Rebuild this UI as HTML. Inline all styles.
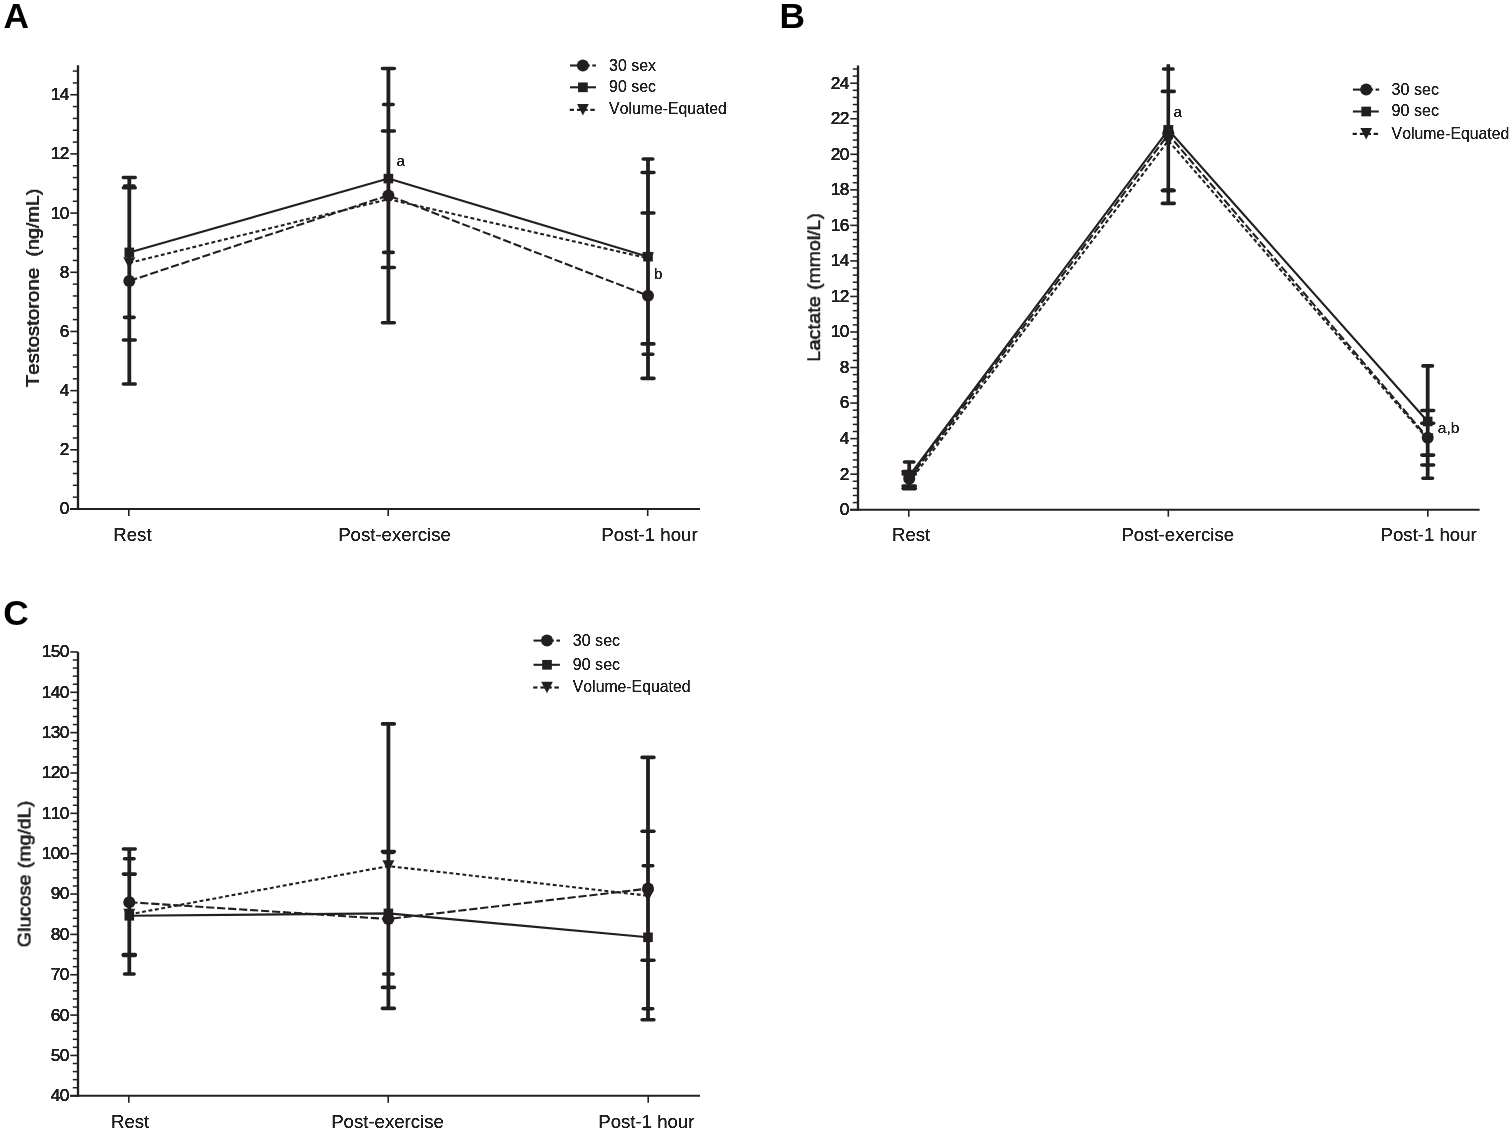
<!DOCTYPE html>
<html lang="en">
<head>
<meta charset="utf-8">
<title>Figure: Testosterone, Lactate, Glucose responses</title>
<style>
html,body{margin:0;padding:0;background:#fff;}
body{width:1512px;height:1131px;overflow:hidden;}
svg{display:block;}
svg text{font-family:"Liberation Sans", Arial, Helvetica, sans-serif;font-kerning:none;}
</style>
</head>
<body>
<svg width="1512" height="1131" viewBox="0 0 1512 1131">
<rect x="0" y="0" width="1512" height="1131" fill="#ffffff"/>
<defs>
<filter id="fb60" x="-15%" y="-15%" width="130%" height="130%" color-interpolation-filters="sRGB"><feOffset in="SourceGraphic" dx="0.3" dy="0" result="a"/><feOffset in="SourceGraphic" dx="-0.3" dy="0" result="b"/><feOffset in="SourceGraphic" dx="0" dy="0.3" result="c"/><feOffset in="SourceGraphic" dx="0" dy="-0.3" result="d"/><feMerge><feMergeNode in="a"/><feMergeNode in="b"/><feMergeNode in="c"/><feMergeNode in="d"/><feMergeNode in="SourceGraphic"/></feMerge></filter>
<filter id="fb90" x="-15%" y="-15%" width="130%" height="130%" color-interpolation-filters="sRGB"><feOffset in="SourceGraphic" dx="0.45" dy="0" result="a"/><feOffset in="SourceGraphic" dx="-0.45" dy="0" result="b"/><feOffset in="SourceGraphic" dx="0" dy="0.45" result="c"/><feOffset in="SourceGraphic" dx="0" dy="-0.45" result="d"/><feMerge><feMergeNode in="a"/><feMergeNode in="b"/><feMergeNode in="c"/><feMergeNode in="d"/><feMergeNode in="SourceGraphic"/></feMerge></filter>
<filter id="fs" x="-10%" y="-25%" width="120%" height="150%" color-interpolation-filters="sRGB"><feGaussianBlur stdDeviation="0.35"/><feComponentTransfer><feFuncA type="linear" slope="2.2" intercept="-0.226"/></feComponentTransfer></filter>
</defs>
<line x1="78" y1="65.15" x2="78" y2="510.00" stroke="#231f20" stroke-width="2.3"/>
<line x1="70.30" y1="509.00" x2="78" y2="509.00" stroke="#231f20" stroke-width="1.6"/>
<text x="59.75" y="514.40" font-size="17.3" text-anchor="start" fill="#231f20" filter="url(#fb90)" letter-spacing="-0.6">0</text>
<line x1="70.30" y1="449.82" x2="78" y2="449.82" stroke="#231f20" stroke-width="1.6"/>
<text x="59.75" y="455.22" font-size="17.3" text-anchor="start" fill="#231f20" filter="url(#fb90)" letter-spacing="-0.6">2</text>
<line x1="70.30" y1="390.64" x2="78" y2="390.64" stroke="#231f20" stroke-width="1.6"/>
<text x="59.75" y="396.04" font-size="17.3" text-anchor="start" fill="#231f20" filter="url(#fb90)" letter-spacing="-0.6">4</text>
<line x1="70.30" y1="331.46" x2="78" y2="331.46" stroke="#231f20" stroke-width="1.6"/>
<text x="59.75" y="336.86" font-size="17.3" text-anchor="start" fill="#231f20" filter="url(#fb90)" letter-spacing="-0.6">6</text>
<line x1="70.30" y1="272.28" x2="78" y2="272.28" stroke="#231f20" stroke-width="1.6"/>
<text x="59.75" y="277.68" font-size="17.3" text-anchor="start" fill="#231f20" filter="url(#fb90)" letter-spacing="-0.6">8</text>
<line x1="70.30" y1="213.10" x2="78" y2="213.10" stroke="#231f20" stroke-width="1.6"/>
<text x="50.75" y="218.50" font-size="17.3" text-anchor="start" fill="#231f20" filter="url(#fb90)" letter-spacing="-0.6">10</text>
<line x1="70.30" y1="153.92" x2="78" y2="153.92" stroke="#231f20" stroke-width="1.6"/>
<text x="50.75" y="159.32" font-size="17.3" text-anchor="start" fill="#231f20" filter="url(#fb90)" letter-spacing="-0.6">12</text>
<line x1="70.30" y1="94.74" x2="78" y2="94.74" stroke="#231f20" stroke-width="1.6"/>
<text x="50.75" y="100.14" font-size="17.3" text-anchor="start" fill="#231f20" filter="url(#fb90)" letter-spacing="-0.6">14</text>
<line x1="72.80" y1="497.16" x2="78" y2="497.16" stroke="#231f20" stroke-width="1.5"/>
<line x1="72.80" y1="485.33" x2="78" y2="485.33" stroke="#231f20" stroke-width="1.5"/>
<line x1="72.80" y1="473.49" x2="78" y2="473.49" stroke="#231f20" stroke-width="1.5"/>
<line x1="72.80" y1="461.66" x2="78" y2="461.66" stroke="#231f20" stroke-width="1.5"/>
<line x1="72.80" y1="437.98" x2="78" y2="437.98" stroke="#231f20" stroke-width="1.5"/>
<line x1="72.80" y1="426.15" x2="78" y2="426.15" stroke="#231f20" stroke-width="1.5"/>
<line x1="72.80" y1="414.31" x2="78" y2="414.31" stroke="#231f20" stroke-width="1.5"/>
<line x1="72.80" y1="402.48" x2="78" y2="402.48" stroke="#231f20" stroke-width="1.5"/>
<line x1="72.80" y1="378.80" x2="78" y2="378.80" stroke="#231f20" stroke-width="1.5"/>
<line x1="72.80" y1="366.97" x2="78" y2="366.97" stroke="#231f20" stroke-width="1.5"/>
<line x1="72.80" y1="355.13" x2="78" y2="355.13" stroke="#231f20" stroke-width="1.5"/>
<line x1="72.80" y1="343.30" x2="78" y2="343.30" stroke="#231f20" stroke-width="1.5"/>
<line x1="72.80" y1="319.62" x2="78" y2="319.62" stroke="#231f20" stroke-width="1.5"/>
<line x1="72.80" y1="307.79" x2="78" y2="307.79" stroke="#231f20" stroke-width="1.5"/>
<line x1="72.80" y1="295.95" x2="78" y2="295.95" stroke="#231f20" stroke-width="1.5"/>
<line x1="72.80" y1="284.12" x2="78" y2="284.12" stroke="#231f20" stroke-width="1.5"/>
<line x1="72.80" y1="260.44" x2="78" y2="260.44" stroke="#231f20" stroke-width="1.5"/>
<line x1="72.80" y1="248.61" x2="78" y2="248.61" stroke="#231f20" stroke-width="1.5"/>
<line x1="72.80" y1="236.77" x2="78" y2="236.77" stroke="#231f20" stroke-width="1.5"/>
<line x1="72.80" y1="224.94" x2="78" y2="224.94" stroke="#231f20" stroke-width="1.5"/>
<line x1="72.80" y1="201.26" x2="78" y2="201.26" stroke="#231f20" stroke-width="1.5"/>
<line x1="72.80" y1="189.43" x2="78" y2="189.43" stroke="#231f20" stroke-width="1.5"/>
<line x1="72.80" y1="177.59" x2="78" y2="177.59" stroke="#231f20" stroke-width="1.5"/>
<line x1="72.80" y1="165.76" x2="78" y2="165.76" stroke="#231f20" stroke-width="1.5"/>
<line x1="72.80" y1="142.08" x2="78" y2="142.08" stroke="#231f20" stroke-width="1.5"/>
<line x1="72.80" y1="130.25" x2="78" y2="130.25" stroke="#231f20" stroke-width="1.5"/>
<line x1="72.80" y1="118.41" x2="78" y2="118.41" stroke="#231f20" stroke-width="1.5"/>
<line x1="72.80" y1="106.58" x2="78" y2="106.58" stroke="#231f20" stroke-width="1.5"/>
<line x1="72.80" y1="82.90" x2="78" y2="82.90" stroke="#231f20" stroke-width="1.5"/>
<line x1="72.80" y1="71.07" x2="78" y2="71.07" stroke="#231f20" stroke-width="1.5"/>
<line x1="70.00" y1="509.00" x2="700.00" y2="509.00" stroke="#231f20" stroke-width="2.1"/>
<line x1="128.80" y1="509.00" x2="128.80" y2="516.00" stroke="#231f20" stroke-width="1.6"/>
<line x1="388.20" y1="509.00" x2="388.20" y2="516.00" stroke="#231f20" stroke-width="1.6"/>
<line x1="647.70" y1="509.00" x2="647.70" y2="516.00" stroke="#231f20" stroke-width="1.6"/>
<text x="113.35" y="540.90" font-size="18.6" text-anchor="start" fill="#231f20" filter="url(#fs)" textLength="38.20" lengthAdjust="spacingAndGlyphs">Rest</text>
<text x="338.20" y="540.90" font-size="18.6" text-anchor="start" fill="#231f20" filter="url(#fs)" textLength="112.70" lengthAdjust="spacingAndGlyphs">Post-exercise</text>
<text x="601.30" y="540.90" font-size="18.6" text-anchor="start" fill="#231f20" filter="url(#fs)" textLength="96.40" lengthAdjust="spacingAndGlyphs">Post-1 hour</text>
<text transform="translate(39.00 386.80) rotate(-90)" font-size="18.2" fill="#231f20" filter="url(#fb60)" style="white-space:pre"><tspan x="-0.40" textLength="119.40" lengthAdjust="spacingAndGlyphs">Testostorone</tspan>  <tspan x="130.30" textLength="67.90" lengthAdjust="spacingAndGlyphs">(ng/mL)</tspan></text>
<text x="3.40" y="27.90" font-size="34.5" text-anchor="start" fill="#000" font-weight="bold" textLength="25.50" lengthAdjust="spacingAndGlyphs">A</text>
<line x1="129.30" y1="177.50" x2="129.30" y2="384.00" stroke="#231f20" stroke-width="3.8"/>
<line x1="123.40" y1="177.50" x2="135.20" y2="177.50" stroke="#231f20" stroke-width="3.6" stroke-linecap="round"/>
<line x1="124.55" y1="186.00" x2="134.05" y2="186.00" stroke="#231f20" stroke-width="3.6" stroke-linecap="round"/>
<line x1="123.40" y1="187.80" x2="135.20" y2="187.80" stroke="#231f20" stroke-width="3.6" stroke-linecap="round"/>
<line x1="124.55" y1="317.40" x2="134.05" y2="317.40" stroke="#231f20" stroke-width="3.6" stroke-linecap="round"/>
<line x1="123.40" y1="340.00" x2="135.20" y2="340.00" stroke="#231f20" stroke-width="3.6" stroke-linecap="round"/>
<line x1="123.40" y1="384.00" x2="135.20" y2="384.00" stroke="#231f20" stroke-width="3.6" stroke-linecap="round"/>
<line x1="388.40" y1="68.50" x2="388.40" y2="322.70" stroke="#231f20" stroke-width="3.8"/>
<line x1="382.50" y1="68.50" x2="394.30" y2="68.50" stroke="#231f20" stroke-width="3.6" stroke-linecap="round"/>
<line x1="383.65" y1="104.50" x2="393.15" y2="104.50" stroke="#231f20" stroke-width="3.6" stroke-linecap="round"/>
<line x1="382.50" y1="131.00" x2="394.30" y2="131.00" stroke="#231f20" stroke-width="3.6" stroke-linecap="round"/>
<line x1="383.65" y1="252.40" x2="393.15" y2="252.40" stroke="#231f20" stroke-width="3.6" stroke-linecap="round"/>
<line x1="382.50" y1="267.50" x2="394.30" y2="267.50" stroke="#231f20" stroke-width="3.6" stroke-linecap="round"/>
<line x1="382.50" y1="322.70" x2="394.30" y2="322.70" stroke="#231f20" stroke-width="3.6" stroke-linecap="round"/>
<line x1="648.00" y1="159.00" x2="648.00" y2="378.40" stroke="#231f20" stroke-width="3.8"/>
<line x1="643.25" y1="159.00" x2="652.75" y2="159.00" stroke="#231f20" stroke-width="3.6" stroke-linecap="round"/>
<line x1="642.10" y1="172.50" x2="653.90" y2="172.50" stroke="#231f20" stroke-width="3.6" stroke-linecap="round"/>
<line x1="642.10" y1="213.00" x2="653.90" y2="213.00" stroke="#231f20" stroke-width="3.6" stroke-linecap="round"/>
<line x1="642.10" y1="343.90" x2="653.90" y2="343.90" stroke="#231f20" stroke-width="3.6" stroke-linecap="round"/>
<line x1="643.25" y1="354.30" x2="652.75" y2="354.30" stroke="#231f20" stroke-width="3.6" stroke-linecap="round"/>
<line x1="642.10" y1="378.40" x2="653.90" y2="378.40" stroke="#231f20" stroke-width="3.6" stroke-linecap="round"/>
<polyline points="129.30,280.90 388.40,195.40 648.00,295.70" fill="none" stroke="#231f20" stroke-width="2.1" stroke-dasharray="8.2 2.8" stroke-linejoin="round"/>
<polyline points="129.30,252.40 388.40,178.60 648.00,256.70" fill="none" stroke="#231f20" stroke-width="2.1" stroke-linejoin="round"/>
<polyline points="129.30,262.90 388.40,199.20 648.00,258.20" fill="none" stroke="#231f20" stroke-width="2.1" stroke-dasharray="3.9 2.6" stroke-linejoin="round"/>
<polygon points="123.30,257.15 135.30,257.15 129.30,268.65" fill="#231f20"/>
<rect x="124.50" y="247.60" width="9.6" height="9.6" fill="#231f20"/>
<circle cx="129.30" cy="280.90" r="6.0" fill="#231f20"/>
<polygon points="382.40,193.45 394.40,193.45 388.40,204.95" fill="#231f20"/>
<rect x="383.60" y="173.80" width="9.6" height="9.6" fill="#231f20"/>
<circle cx="388.40" cy="195.40" r="6.0" fill="#231f20"/>
<polygon points="642.00,252.45 654.00,252.45 648.00,263.95" fill="#231f20"/>
<rect x="643.20" y="251.90" width="9.6" height="9.6" fill="#231f20"/>
<circle cx="648.00" cy="295.70" r="6.0" fill="#231f20"/>
<text x="396.60" y="166.30" font-size="15.2" text-anchor="start" fill="#231f20" filter="url(#fs)">a</text>
<text x="654.00" y="279.00" font-size="15.2" text-anchor="start" fill="#231f20" filter="url(#fs)">b</text>
<line x1="570.00" y1="65.50" x2="582.90" y2="65.50" stroke="#231f20" stroke-width="2.1"/>
<line x1="582.90" y1="65.50" x2="589.80" y2="65.50" stroke="#231f20" stroke-width="2.1"/>
<line x1="592.30" y1="65.50" x2="595.90" y2="65.50" stroke="#231f20" stroke-width="2.1"/>
<circle cx="582.90" cy="65.50" r="6.0" fill="#231f20"/>
<line x1="570.00" y1="87.30" x2="596.00" y2="87.30" stroke="#231f20" stroke-width="2.1"/>
<rect x="578.05" y="82.45" width="9.7" height="9.7" fill="#231f20"/>
<line x1="569.70" y1="109.85" x2="574.00" y2="109.85" stroke="#231f20" stroke-width="2.2"/>
<line x1="576.90" y1="109.85" x2="582.90" y2="109.85" stroke="#231f20" stroke-width="2.2"/>
<line x1="582.90" y1="109.85" x2="587.70" y2="109.85" stroke="#231f20" stroke-width="2.2"/>
<line x1="590.30" y1="109.85" x2="594.80" y2="109.85" stroke="#231f20" stroke-width="2.2"/>
<polygon points="577.05,104.00 588.75,104.00 582.90,115.50" fill="#231f20"/>
<text x="609.10" y="70.50" font-size="15.7" text-anchor="start" fill="#231f20" filter="url(#fs)" textLength="47.00" lengthAdjust="spacingAndGlyphs">30 sex</text>
<text x="609.10" y="92.00" font-size="15.7" text-anchor="start" fill="#231f20" filter="url(#fs)" textLength="47.00" lengthAdjust="spacingAndGlyphs">90 sec</text>
<text x="609.10" y="114.40" font-size="15.7" text-anchor="start" fill="#231f20" filter="url(#fs)" textLength="117.80" lengthAdjust="spacingAndGlyphs">Volume-Equated</text>
<line x1="858" y1="65.45" x2="858" y2="510.70" stroke="#231f20" stroke-width="2.3"/>
<line x1="850.30" y1="509.70" x2="858" y2="509.70" stroke="#231f20" stroke-width="1.6"/>
<text x="839.75" y="515.10" font-size="17.3" text-anchor="start" fill="#231f20" filter="url(#fb90)" letter-spacing="-0.6">0</text>
<line x1="850.30" y1="474.16" x2="858" y2="474.16" stroke="#231f20" stroke-width="1.6"/>
<text x="839.75" y="479.56" font-size="17.3" text-anchor="start" fill="#231f20" filter="url(#fb90)" letter-spacing="-0.6">2</text>
<line x1="850.30" y1="438.62" x2="858" y2="438.62" stroke="#231f20" stroke-width="1.6"/>
<text x="839.75" y="444.02" font-size="17.3" text-anchor="start" fill="#231f20" filter="url(#fb90)" letter-spacing="-0.6">4</text>
<line x1="850.30" y1="403.08" x2="858" y2="403.08" stroke="#231f20" stroke-width="1.6"/>
<text x="839.75" y="408.48" font-size="17.3" text-anchor="start" fill="#231f20" filter="url(#fb90)" letter-spacing="-0.6">6</text>
<line x1="850.30" y1="367.54" x2="858" y2="367.54" stroke="#231f20" stroke-width="1.6"/>
<text x="839.75" y="372.94" font-size="17.3" text-anchor="start" fill="#231f20" filter="url(#fb90)" letter-spacing="-0.6">8</text>
<line x1="850.30" y1="332.00" x2="858" y2="332.00" stroke="#231f20" stroke-width="1.6"/>
<text x="830.75" y="337.40" font-size="17.3" text-anchor="start" fill="#231f20" filter="url(#fb90)" letter-spacing="-0.6">10</text>
<line x1="850.30" y1="296.46" x2="858" y2="296.46" stroke="#231f20" stroke-width="1.6"/>
<text x="830.75" y="301.86" font-size="17.3" text-anchor="start" fill="#231f20" filter="url(#fb90)" letter-spacing="-0.6">12</text>
<line x1="850.30" y1="260.92" x2="858" y2="260.92" stroke="#231f20" stroke-width="1.6"/>
<text x="830.75" y="266.32" font-size="17.3" text-anchor="start" fill="#231f20" filter="url(#fb90)" letter-spacing="-0.6">14</text>
<line x1="850.30" y1="225.38" x2="858" y2="225.38" stroke="#231f20" stroke-width="1.6"/>
<text x="830.75" y="230.78" font-size="17.3" text-anchor="start" fill="#231f20" filter="url(#fb90)" letter-spacing="-0.6">16</text>
<line x1="850.30" y1="189.84" x2="858" y2="189.84" stroke="#231f20" stroke-width="1.6"/>
<text x="830.75" y="195.24" font-size="17.3" text-anchor="start" fill="#231f20" filter="url(#fb90)" letter-spacing="-0.6">18</text>
<line x1="850.30" y1="154.30" x2="858" y2="154.30" stroke="#231f20" stroke-width="1.6"/>
<text x="830.75" y="159.70" font-size="17.3" text-anchor="start" fill="#231f20" filter="url(#fb90)" letter-spacing="-0.6">20</text>
<line x1="850.30" y1="118.76" x2="858" y2="118.76" stroke="#231f20" stroke-width="1.6"/>
<text x="830.75" y="124.16" font-size="17.3" text-anchor="start" fill="#231f20" filter="url(#fb90)" letter-spacing="-0.6">22</text>
<line x1="850.30" y1="83.22" x2="858" y2="83.22" stroke="#231f20" stroke-width="1.6"/>
<text x="830.75" y="88.62" font-size="17.3" text-anchor="start" fill="#231f20" filter="url(#fb90)" letter-spacing="-0.6">24</text>
<line x1="852.80" y1="502.59" x2="858" y2="502.59" stroke="#231f20" stroke-width="1.5"/>
<line x1="852.80" y1="495.48" x2="858" y2="495.48" stroke="#231f20" stroke-width="1.5"/>
<line x1="852.80" y1="488.38" x2="858" y2="488.38" stroke="#231f20" stroke-width="1.5"/>
<line x1="852.80" y1="481.27" x2="858" y2="481.27" stroke="#231f20" stroke-width="1.5"/>
<line x1="852.80" y1="467.05" x2="858" y2="467.05" stroke="#231f20" stroke-width="1.5"/>
<line x1="852.80" y1="459.94" x2="858" y2="459.94" stroke="#231f20" stroke-width="1.5"/>
<line x1="852.80" y1="452.84" x2="858" y2="452.84" stroke="#231f20" stroke-width="1.5"/>
<line x1="852.80" y1="445.73" x2="858" y2="445.73" stroke="#231f20" stroke-width="1.5"/>
<line x1="852.80" y1="431.51" x2="858" y2="431.51" stroke="#231f20" stroke-width="1.5"/>
<line x1="852.80" y1="424.40" x2="858" y2="424.40" stroke="#231f20" stroke-width="1.5"/>
<line x1="852.80" y1="417.30" x2="858" y2="417.30" stroke="#231f20" stroke-width="1.5"/>
<line x1="852.80" y1="410.19" x2="858" y2="410.19" stroke="#231f20" stroke-width="1.5"/>
<line x1="852.80" y1="395.97" x2="858" y2="395.97" stroke="#231f20" stroke-width="1.5"/>
<line x1="852.80" y1="388.86" x2="858" y2="388.86" stroke="#231f20" stroke-width="1.5"/>
<line x1="852.80" y1="381.76" x2="858" y2="381.76" stroke="#231f20" stroke-width="1.5"/>
<line x1="852.80" y1="374.65" x2="858" y2="374.65" stroke="#231f20" stroke-width="1.5"/>
<line x1="852.80" y1="360.43" x2="858" y2="360.43" stroke="#231f20" stroke-width="1.5"/>
<line x1="852.80" y1="353.32" x2="858" y2="353.32" stroke="#231f20" stroke-width="1.5"/>
<line x1="852.80" y1="346.22" x2="858" y2="346.22" stroke="#231f20" stroke-width="1.5"/>
<line x1="852.80" y1="339.11" x2="858" y2="339.11" stroke="#231f20" stroke-width="1.5"/>
<line x1="852.80" y1="324.89" x2="858" y2="324.89" stroke="#231f20" stroke-width="1.5"/>
<line x1="852.80" y1="317.78" x2="858" y2="317.78" stroke="#231f20" stroke-width="1.5"/>
<line x1="852.80" y1="310.68" x2="858" y2="310.68" stroke="#231f20" stroke-width="1.5"/>
<line x1="852.80" y1="303.57" x2="858" y2="303.57" stroke="#231f20" stroke-width="1.5"/>
<line x1="852.80" y1="289.35" x2="858" y2="289.35" stroke="#231f20" stroke-width="1.5"/>
<line x1="852.80" y1="282.24" x2="858" y2="282.24" stroke="#231f20" stroke-width="1.5"/>
<line x1="852.80" y1="275.14" x2="858" y2="275.14" stroke="#231f20" stroke-width="1.5"/>
<line x1="852.80" y1="268.03" x2="858" y2="268.03" stroke="#231f20" stroke-width="1.5"/>
<line x1="852.80" y1="253.81" x2="858" y2="253.81" stroke="#231f20" stroke-width="1.5"/>
<line x1="852.80" y1="246.70" x2="858" y2="246.70" stroke="#231f20" stroke-width="1.5"/>
<line x1="852.80" y1="239.60" x2="858" y2="239.60" stroke="#231f20" stroke-width="1.5"/>
<line x1="852.80" y1="232.49" x2="858" y2="232.49" stroke="#231f20" stroke-width="1.5"/>
<line x1="852.80" y1="218.27" x2="858" y2="218.27" stroke="#231f20" stroke-width="1.5"/>
<line x1="852.80" y1="211.16" x2="858" y2="211.16" stroke="#231f20" stroke-width="1.5"/>
<line x1="852.80" y1="204.06" x2="858" y2="204.06" stroke="#231f20" stroke-width="1.5"/>
<line x1="852.80" y1="196.95" x2="858" y2="196.95" stroke="#231f20" stroke-width="1.5"/>
<line x1="852.80" y1="182.73" x2="858" y2="182.73" stroke="#231f20" stroke-width="1.5"/>
<line x1="852.80" y1="175.62" x2="858" y2="175.62" stroke="#231f20" stroke-width="1.5"/>
<line x1="852.80" y1="168.52" x2="858" y2="168.52" stroke="#231f20" stroke-width="1.5"/>
<line x1="852.80" y1="161.41" x2="858" y2="161.41" stroke="#231f20" stroke-width="1.5"/>
<line x1="852.80" y1="147.19" x2="858" y2="147.19" stroke="#231f20" stroke-width="1.5"/>
<line x1="852.80" y1="140.08" x2="858" y2="140.08" stroke="#231f20" stroke-width="1.5"/>
<line x1="852.80" y1="132.98" x2="858" y2="132.98" stroke="#231f20" stroke-width="1.5"/>
<line x1="852.80" y1="125.87" x2="858" y2="125.87" stroke="#231f20" stroke-width="1.5"/>
<line x1="852.80" y1="111.65" x2="858" y2="111.65" stroke="#231f20" stroke-width="1.5"/>
<line x1="852.80" y1="104.54" x2="858" y2="104.54" stroke="#231f20" stroke-width="1.5"/>
<line x1="852.80" y1="97.44" x2="858" y2="97.44" stroke="#231f20" stroke-width="1.5"/>
<line x1="852.80" y1="90.33" x2="858" y2="90.33" stroke="#231f20" stroke-width="1.5"/>
<line x1="852.80" y1="76.11" x2="858" y2="76.11" stroke="#231f20" stroke-width="1.5"/>
<line x1="852.80" y1="69.00" x2="858" y2="69.00" stroke="#231f20" stroke-width="1.5"/>
<line x1="850.00" y1="509.70" x2="1479.60" y2="509.70" stroke="#231f20" stroke-width="2.1"/>
<line x1="908.80" y1="509.70" x2="908.80" y2="516.70" stroke="#231f20" stroke-width="1.6"/>
<line x1="1168.30" y1="509.70" x2="1168.30" y2="516.70" stroke="#231f20" stroke-width="1.6"/>
<line x1="1427.80" y1="509.70" x2="1427.80" y2="516.70" stroke="#231f20" stroke-width="1.6"/>
<text x="892.00" y="540.90" font-size="18.6" text-anchor="start" fill="#231f20" filter="url(#fs)" textLength="38.20" lengthAdjust="spacingAndGlyphs">Rest</text>
<text x="1121.40" y="540.90" font-size="18.6" text-anchor="start" fill="#231f20" filter="url(#fs)" textLength="112.70" lengthAdjust="spacingAndGlyphs">Post-exercise</text>
<text x="1380.60" y="540.90" font-size="18.6" text-anchor="start" fill="#231f20" filter="url(#fs)" textLength="96.10" lengthAdjust="spacingAndGlyphs">Post-1 hour</text>
<text transform="translate(820.20 360.30) rotate(-90)" font-size="18.2" fill="#231f20" filter="url(#fb60)" style="white-space:pre"><tspan x="-1.40" textLength="65.60" lengthAdjust="spacingAndGlyphs">Lactate</tspan> <tspan x="70.40" textLength="76.80" lengthAdjust="spacingAndGlyphs">(mmol/L)</tspan></text>
<text x="779.60" y="27.90" font-size="34.5" text-anchor="start" fill="#000" font-weight="bold" textLength="25.50" lengthAdjust="spacingAndGlyphs">B</text>
<line x1="909.20" y1="462.00" x2="909.20" y2="489.00" stroke="#231f20" stroke-width="3.8"/>
<line x1="904.50" y1="462.00" x2="913.90" y2="462.00" stroke="#231f20" stroke-width="3.6" stroke-linecap="round"/>
<line x1="903.10" y1="471.60" x2="915.30" y2="471.60" stroke="#231f20" stroke-width="3.6" stroke-linecap="round"/>
<line x1="903.10" y1="474.00" x2="915.30" y2="474.00" stroke="#231f20" stroke-width="3.6" stroke-linecap="round"/>
<line x1="903.10" y1="486.00" x2="915.30" y2="486.00" stroke="#231f20" stroke-width="3.6" stroke-linecap="round"/>
<line x1="903.10" y1="488.60" x2="915.30" y2="488.60" stroke="#231f20" stroke-width="3.6" stroke-linecap="round"/>
<line x1="1168.30" y1="64.30" x2="1168.30" y2="203.40" stroke="#231f20" stroke-width="3.6"/>
<line x1="1163.55" y1="69.00" x2="1173.05" y2="69.00" stroke="#231f20" stroke-width="3.6" stroke-linecap="round"/>
<line x1="1162.40" y1="91.40" x2="1174.20" y2="91.40" stroke="#231f20" stroke-width="3.6" stroke-linecap="round"/>
<line x1="1163.55" y1="190.00" x2="1173.05" y2="190.00" stroke="#231f20" stroke-width="3.6" stroke-linecap="round"/>
<line x1="1162.40" y1="190.60" x2="1174.20" y2="190.60" stroke="#231f20" stroke-width="3.6" stroke-linecap="round"/>
<line x1="1162.40" y1="203.40" x2="1174.20" y2="203.40" stroke="#231f20" stroke-width="3.6" stroke-linecap="round"/>
<line x1="1427.70" y1="365.90" x2="1427.70" y2="478.20" stroke="#231f20" stroke-width="3.8"/>
<line x1="1422.95" y1="365.90" x2="1432.45" y2="365.90" stroke="#231f20" stroke-width="3.6" stroke-linecap="round"/>
<line x1="1421.80" y1="410.50" x2="1433.60" y2="410.50" stroke="#231f20" stroke-width="3.6" stroke-linecap="round"/>
<line x1="1421.80" y1="423.30" x2="1433.60" y2="423.30" stroke="#231f20" stroke-width="3.6" stroke-linecap="round"/>
<line x1="1421.80" y1="455.10" x2="1433.60" y2="455.10" stroke="#231f20" stroke-width="3.6" stroke-linecap="round"/>
<line x1="1421.80" y1="465.00" x2="1433.60" y2="465.00" stroke="#231f20" stroke-width="3.6" stroke-linecap="round"/>
<line x1="1422.95" y1="478.20" x2="1432.45" y2="478.20" stroke="#231f20" stroke-width="3.6" stroke-linecap="round"/>
<polyline points="909.20,478.80 1168.30,134.40 1427.70,437.70" fill="none" stroke="#231f20" stroke-width="2.1" stroke-dasharray="8.2 2.8" stroke-linejoin="round"/>
<polyline points="909.20,476.00 1168.30,129.80 1427.70,421.50" fill="none" stroke="#231f20" stroke-width="2.1" stroke-linejoin="round"/>
<polyline points="909.20,482.00 1168.30,140.60 1427.70,439.20" fill="none" stroke="#231f20" stroke-width="2.1" stroke-dasharray="3.9 2.6" stroke-linejoin="round"/>
<polygon points="903.20,475.75 915.20,475.75 909.20,487.25" fill="#231f20"/>
<rect x="904.40" y="471.20" width="9.6" height="9.6" fill="#231f20"/>
<circle cx="909.20" cy="478.80" r="6.0" fill="#231f20"/>
<polygon points="1162.30,135.25 1174.30,135.25 1168.30,146.75" fill="#231f20"/>
<rect x="1163.35" y="125.05" width="9.9" height="9.9" fill="#231f20"/>
<circle cx="1168.30" cy="133.20" r="6.0" fill="#231f20"/>
<polygon points="1421.70,433.45 1433.70,433.45 1427.70,444.95" fill="#231f20"/>
<rect x="1422.90" y="416.70" width="9.6" height="9.6" fill="#231f20"/>
<circle cx="1427.70" cy="437.70" r="6.0" fill="#231f20"/>
<text x="1173.50" y="116.70" font-size="15.2" text-anchor="start" fill="#231f20" filter="url(#fs)">a</text>
<text x="1437.80" y="433.00" font-size="15.2" text-anchor="start" fill="#231f20" filter="url(#fs)" textLength="21.80" lengthAdjust="spacingAndGlyphs">a,b</text>
<line x1="1352.90" y1="89.60" x2="1366.20" y2="89.60" stroke="#231f20" stroke-width="2.1"/>
<line x1="1366.20" y1="89.60" x2="1373.10" y2="89.60" stroke="#231f20" stroke-width="2.1"/>
<line x1="1375.60" y1="89.60" x2="1379.20" y2="89.60" stroke="#231f20" stroke-width="2.1"/>
<circle cx="1366.20" cy="89.60" r="6.0" fill="#231f20"/>
<line x1="1352.90" y1="111.50" x2="1378.80" y2="111.50" stroke="#231f20" stroke-width="2.1"/>
<rect x="1361.35" y="106.65" width="9.7" height="9.7" fill="#231f20"/>
<line x1="1352.60" y1="133.90" x2="1356.90" y2="133.90" stroke="#231f20" stroke-width="2.2"/>
<line x1="1359.80" y1="133.90" x2="1366.20" y2="133.90" stroke="#231f20" stroke-width="2.2"/>
<line x1="1366.20" y1="133.90" x2="1371.00" y2="133.90" stroke="#231f20" stroke-width="2.2"/>
<line x1="1373.60" y1="133.90" x2="1378.10" y2="133.90" stroke="#231f20" stroke-width="2.2"/>
<polygon points="1360.35,128.05 1372.05,128.05 1366.20,139.55" fill="#231f20"/>
<text x="1391.60" y="94.90" font-size="15.7" text-anchor="start" fill="#231f20" filter="url(#fs)" textLength="47.40" lengthAdjust="spacingAndGlyphs">30 sec</text>
<text x="1391.60" y="116.30" font-size="15.7" text-anchor="start" fill="#231f20" filter="url(#fs)" textLength="47.40" lengthAdjust="spacingAndGlyphs">90 sec</text>
<text x="1391.60" y="138.80" font-size="15.7" text-anchor="start" fill="#231f20" filter="url(#fs)" textLength="117.70" lengthAdjust="spacingAndGlyphs">Volume-Equated</text>
<line x1="78" y1="651.95" x2="78" y2="1096.80" stroke="#231f20" stroke-width="2.3"/>
<line x1="70.30" y1="1095.80" x2="78" y2="1095.80" stroke="#231f20" stroke-width="1.6"/>
<text x="50.75" y="1101.20" font-size="17.3" text-anchor="start" fill="#231f20" filter="url(#fb90)" letter-spacing="-0.6">40</text>
<line x1="70.30" y1="1055.45" x2="78" y2="1055.45" stroke="#231f20" stroke-width="1.6"/>
<text x="50.75" y="1060.85" font-size="17.3" text-anchor="start" fill="#231f20" filter="url(#fb90)" letter-spacing="-0.6">50</text>
<line x1="70.30" y1="1015.10" x2="78" y2="1015.10" stroke="#231f20" stroke-width="1.6"/>
<text x="50.75" y="1020.50" font-size="17.3" text-anchor="start" fill="#231f20" filter="url(#fb90)" letter-spacing="-0.6">60</text>
<line x1="70.30" y1="974.75" x2="78" y2="974.75" stroke="#231f20" stroke-width="1.6"/>
<text x="50.75" y="980.15" font-size="17.3" text-anchor="start" fill="#231f20" filter="url(#fb90)" letter-spacing="-0.6">70</text>
<line x1="70.30" y1="934.40" x2="78" y2="934.40" stroke="#231f20" stroke-width="1.6"/>
<text x="50.75" y="939.80" font-size="17.3" text-anchor="start" fill="#231f20" filter="url(#fb90)" letter-spacing="-0.6">80</text>
<line x1="70.30" y1="894.05" x2="78" y2="894.05" stroke="#231f20" stroke-width="1.6"/>
<text x="50.75" y="899.45" font-size="17.3" text-anchor="start" fill="#231f20" filter="url(#fb90)" letter-spacing="-0.6">90</text>
<line x1="70.30" y1="853.70" x2="78" y2="853.70" stroke="#231f20" stroke-width="1.6"/>
<text x="41.75" y="859.10" font-size="17.3" text-anchor="start" fill="#231f20" filter="url(#fb90)" letter-spacing="-0.6">100</text>
<line x1="70.30" y1="813.35" x2="78" y2="813.35" stroke="#231f20" stroke-width="1.6"/>
<text x="41.75" y="818.75" font-size="17.3" text-anchor="start" fill="#231f20" filter="url(#fb90)" letter-spacing="-0.6">110</text>
<line x1="70.30" y1="773.00" x2="78" y2="773.00" stroke="#231f20" stroke-width="1.6"/>
<text x="41.75" y="778.40" font-size="17.3" text-anchor="start" fill="#231f20" filter="url(#fb90)" letter-spacing="-0.6">120</text>
<line x1="70.30" y1="732.65" x2="78" y2="732.65" stroke="#231f20" stroke-width="1.6"/>
<text x="41.75" y="738.05" font-size="17.3" text-anchor="start" fill="#231f20" filter="url(#fb90)" letter-spacing="-0.6">130</text>
<line x1="70.30" y1="692.30" x2="78" y2="692.30" stroke="#231f20" stroke-width="1.6"/>
<text x="41.75" y="697.70" font-size="17.3" text-anchor="start" fill="#231f20" filter="url(#fb90)" letter-spacing="-0.6">140</text>
<line x1="70.30" y1="651.95" x2="78" y2="651.95" stroke="#231f20" stroke-width="1.6"/>
<text x="41.75" y="657.35" font-size="17.3" text-anchor="start" fill="#231f20" filter="url(#fb90)" letter-spacing="-0.6">150</text>
<line x1="72.80" y1="1087.73" x2="78" y2="1087.73" stroke="#231f20" stroke-width="1.5"/>
<line x1="72.80" y1="1079.66" x2="78" y2="1079.66" stroke="#231f20" stroke-width="1.5"/>
<line x1="72.80" y1="1071.59" x2="78" y2="1071.59" stroke="#231f20" stroke-width="1.5"/>
<line x1="72.80" y1="1063.52" x2="78" y2="1063.52" stroke="#231f20" stroke-width="1.5"/>
<line x1="72.80" y1="1047.38" x2="78" y2="1047.38" stroke="#231f20" stroke-width="1.5"/>
<line x1="72.80" y1="1039.31" x2="78" y2="1039.31" stroke="#231f20" stroke-width="1.5"/>
<line x1="72.80" y1="1031.24" x2="78" y2="1031.24" stroke="#231f20" stroke-width="1.5"/>
<line x1="72.80" y1="1023.17" x2="78" y2="1023.17" stroke="#231f20" stroke-width="1.5"/>
<line x1="72.80" y1="1007.03" x2="78" y2="1007.03" stroke="#231f20" stroke-width="1.5"/>
<line x1="72.80" y1="998.96" x2="78" y2="998.96" stroke="#231f20" stroke-width="1.5"/>
<line x1="72.80" y1="990.89" x2="78" y2="990.89" stroke="#231f20" stroke-width="1.5"/>
<line x1="72.80" y1="982.82" x2="78" y2="982.82" stroke="#231f20" stroke-width="1.5"/>
<line x1="72.80" y1="966.68" x2="78" y2="966.68" stroke="#231f20" stroke-width="1.5"/>
<line x1="72.80" y1="958.61" x2="78" y2="958.61" stroke="#231f20" stroke-width="1.5"/>
<line x1="72.80" y1="950.54" x2="78" y2="950.54" stroke="#231f20" stroke-width="1.5"/>
<line x1="72.80" y1="942.47" x2="78" y2="942.47" stroke="#231f20" stroke-width="1.5"/>
<line x1="72.80" y1="926.33" x2="78" y2="926.33" stroke="#231f20" stroke-width="1.5"/>
<line x1="72.80" y1="918.26" x2="78" y2="918.26" stroke="#231f20" stroke-width="1.5"/>
<line x1="72.80" y1="910.19" x2="78" y2="910.19" stroke="#231f20" stroke-width="1.5"/>
<line x1="72.80" y1="902.12" x2="78" y2="902.12" stroke="#231f20" stroke-width="1.5"/>
<line x1="72.80" y1="885.98" x2="78" y2="885.98" stroke="#231f20" stroke-width="1.5"/>
<line x1="72.80" y1="877.91" x2="78" y2="877.91" stroke="#231f20" stroke-width="1.5"/>
<line x1="72.80" y1="869.84" x2="78" y2="869.84" stroke="#231f20" stroke-width="1.5"/>
<line x1="72.80" y1="861.77" x2="78" y2="861.77" stroke="#231f20" stroke-width="1.5"/>
<line x1="72.80" y1="845.63" x2="78" y2="845.63" stroke="#231f20" stroke-width="1.5"/>
<line x1="72.80" y1="837.56" x2="78" y2="837.56" stroke="#231f20" stroke-width="1.5"/>
<line x1="72.80" y1="829.49" x2="78" y2="829.49" stroke="#231f20" stroke-width="1.5"/>
<line x1="72.80" y1="821.42" x2="78" y2="821.42" stroke="#231f20" stroke-width="1.5"/>
<line x1="72.80" y1="805.28" x2="78" y2="805.28" stroke="#231f20" stroke-width="1.5"/>
<line x1="72.80" y1="797.21" x2="78" y2="797.21" stroke="#231f20" stroke-width="1.5"/>
<line x1="72.80" y1="789.14" x2="78" y2="789.14" stroke="#231f20" stroke-width="1.5"/>
<line x1="72.80" y1="781.07" x2="78" y2="781.07" stroke="#231f20" stroke-width="1.5"/>
<line x1="72.80" y1="764.93" x2="78" y2="764.93" stroke="#231f20" stroke-width="1.5"/>
<line x1="72.80" y1="756.86" x2="78" y2="756.86" stroke="#231f20" stroke-width="1.5"/>
<line x1="72.80" y1="748.79" x2="78" y2="748.79" stroke="#231f20" stroke-width="1.5"/>
<line x1="72.80" y1="740.72" x2="78" y2="740.72" stroke="#231f20" stroke-width="1.5"/>
<line x1="72.80" y1="724.58" x2="78" y2="724.58" stroke="#231f20" stroke-width="1.5"/>
<line x1="72.80" y1="716.51" x2="78" y2="716.51" stroke="#231f20" stroke-width="1.5"/>
<line x1="72.80" y1="708.44" x2="78" y2="708.44" stroke="#231f20" stroke-width="1.5"/>
<line x1="72.80" y1="700.37" x2="78" y2="700.37" stroke="#231f20" stroke-width="1.5"/>
<line x1="72.80" y1="684.23" x2="78" y2="684.23" stroke="#231f20" stroke-width="1.5"/>
<line x1="72.80" y1="676.16" x2="78" y2="676.16" stroke="#231f20" stroke-width="1.5"/>
<line x1="72.80" y1="668.09" x2="78" y2="668.09" stroke="#231f20" stroke-width="1.5"/>
<line x1="72.80" y1="660.02" x2="78" y2="660.02" stroke="#231f20" stroke-width="1.5"/>
<line x1="70.00" y1="1095.80" x2="700.00" y2="1095.80" stroke="#231f20" stroke-width="2.1"/>
<line x1="128.80" y1="1095.80" x2="128.80" y2="1102.80" stroke="#231f20" stroke-width="1.6"/>
<line x1="388.20" y1="1095.80" x2="388.20" y2="1102.80" stroke="#231f20" stroke-width="1.6"/>
<line x1="648.20" y1="1095.80" x2="648.20" y2="1102.80" stroke="#231f20" stroke-width="1.6"/>
<text x="111.00" y="1127.50" font-size="18.6" text-anchor="start" fill="#231f20" filter="url(#fs)" textLength="38.20" lengthAdjust="spacingAndGlyphs">Rest</text>
<text x="331.20" y="1127.50" font-size="18.6" text-anchor="start" fill="#231f20" filter="url(#fs)" textLength="112.70" lengthAdjust="spacingAndGlyphs">Post-exercise</text>
<text x="598.30" y="1127.50" font-size="18.6" text-anchor="start" fill="#231f20" filter="url(#fs)" textLength="96.10" lengthAdjust="spacingAndGlyphs">Post-1 hour</text>
<text transform="translate(30.60 946.30) rotate(-90)" font-size="18.2" fill="#231f20" filter="url(#fb60)" style="white-space:pre"><tspan x="-1.00" textLength="72.70" lengthAdjust="spacingAndGlyphs">Glucose</tspan> <tspan x="78.00" textLength="67.40" lengthAdjust="spacingAndGlyphs">(mg/dL)</tspan></text>
<text x="3.20" y="625.20" font-size="34.5" text-anchor="start" fill="#000" font-weight="bold" textLength="25.50" lengthAdjust="spacingAndGlyphs">C</text>
<line x1="129.30" y1="849.00" x2="129.30" y2="974.00" stroke="#231f20" stroke-width="3.8"/>
<line x1="123.40" y1="849.00" x2="135.20" y2="849.00" stroke="#231f20" stroke-width="3.6" stroke-linecap="round"/>
<line x1="124.55" y1="858.70" x2="134.05" y2="858.70" stroke="#231f20" stroke-width="3.6" stroke-linecap="round"/>
<line x1="123.40" y1="874.10" x2="135.20" y2="874.10" stroke="#231f20" stroke-width="3.6" stroke-linecap="round"/>
<line x1="123.40" y1="954.60" x2="135.20" y2="954.60" stroke="#231f20" stroke-width="3.6" stroke-linecap="round"/>
<line x1="123.40" y1="955.40" x2="135.20" y2="955.40" stroke="#231f20" stroke-width="3.6" stroke-linecap="round"/>
<line x1="124.55" y1="974.00" x2="134.05" y2="974.00" stroke="#231f20" stroke-width="3.6" stroke-linecap="round"/>
<line x1="388.40" y1="723.90" x2="388.40" y2="1008.40" stroke="#231f20" stroke-width="3.8"/>
<line x1="382.50" y1="723.90" x2="394.30" y2="723.90" stroke="#231f20" stroke-width="3.6" stroke-linecap="round"/>
<line x1="382.50" y1="851.60" x2="394.30" y2="851.60" stroke="#231f20" stroke-width="3.6" stroke-linecap="round"/>
<line x1="383.65" y1="852.40" x2="393.15" y2="852.40" stroke="#231f20" stroke-width="3.6" stroke-linecap="round"/>
<line x1="383.65" y1="974.00" x2="393.15" y2="974.00" stroke="#231f20" stroke-width="3.6" stroke-linecap="round"/>
<line x1="382.50" y1="987.40" x2="394.30" y2="987.40" stroke="#231f20" stroke-width="3.6" stroke-linecap="round"/>
<line x1="382.50" y1="1008.40" x2="394.30" y2="1008.40" stroke="#231f20" stroke-width="3.6" stroke-linecap="round"/>
<line x1="648.00" y1="757.40" x2="648.00" y2="1019.70" stroke="#231f20" stroke-width="3.8"/>
<line x1="642.10" y1="757.40" x2="653.90" y2="757.40" stroke="#231f20" stroke-width="3.6" stroke-linecap="round"/>
<line x1="642.10" y1="831.20" x2="653.90" y2="831.20" stroke="#231f20" stroke-width="3.6" stroke-linecap="round"/>
<line x1="643.25" y1="865.70" x2="652.75" y2="865.70" stroke="#231f20" stroke-width="3.6" stroke-linecap="round"/>
<line x1="642.10" y1="960.30" x2="653.90" y2="960.30" stroke="#231f20" stroke-width="3.6" stroke-linecap="round"/>
<line x1="643.25" y1="1008.80" x2="652.75" y2="1008.80" stroke="#231f20" stroke-width="3.6" stroke-linecap="round"/>
<line x1="642.10" y1="1019.70" x2="653.90" y2="1019.70" stroke="#231f20" stroke-width="3.6" stroke-linecap="round"/>
<polyline points="129.30,902.20 388.40,919.00 648.00,888.60" fill="none" stroke="#231f20" stroke-width="2.1" stroke-dasharray="8.2 2.8" stroke-linejoin="round"/>
<polyline points="129.30,915.80 388.40,913.40 648.00,937.30" fill="none" stroke="#231f20" stroke-width="2.1" stroke-linejoin="round"/>
<polyline points="129.30,914.40 388.40,866.10 648.00,895.70" fill="none" stroke="#231f20" stroke-width="2.1" stroke-dasharray="3.9 2.6" stroke-linejoin="round"/>
<polygon points="123.30,908.65 135.30,908.65 129.30,920.15" fill="#231f20"/>
<rect x="124.50" y="911.00" width="9.6" height="9.6" fill="#231f20"/>
<circle cx="129.30" cy="902.20" r="6.0" fill="#231f20"/>
<polygon points="382.40,860.35 394.40,860.35 388.40,871.85" fill="#231f20"/>
<rect x="383.60" y="908.60" width="9.6" height="9.6" fill="#231f20"/>
<circle cx="388.40" cy="919.00" r="6.0" fill="#231f20"/>
<polygon points="642.00,889.95 654.00,889.95 648.00,901.45" fill="#231f20"/>
<rect x="643.20" y="932.50" width="9.6" height="9.6" fill="#231f20"/>
<circle cx="648.00" cy="888.60" r="6.0" fill="#231f20"/>
<line x1="533.50" y1="640.60" x2="547.00" y2="640.60" stroke="#231f20" stroke-width="2.1"/>
<line x1="547.00" y1="640.60" x2="553.90" y2="640.60" stroke="#231f20" stroke-width="2.1"/>
<line x1="556.40" y1="640.60" x2="560.00" y2="640.60" stroke="#231f20" stroke-width="2.1"/>
<circle cx="547.00" cy="640.60" r="6.0" fill="#231f20"/>
<line x1="533.50" y1="664.80" x2="559.90" y2="664.80" stroke="#231f20" stroke-width="2.1"/>
<rect x="542.15" y="659.95" width="9.7" height="9.7" fill="#231f20"/>
<line x1="533.20" y1="687.50" x2="537.50" y2="687.50" stroke="#231f20" stroke-width="2.2"/>
<line x1="540.40" y1="687.50" x2="547.00" y2="687.50" stroke="#231f20" stroke-width="2.2"/>
<line x1="547.00" y1="687.50" x2="551.80" y2="687.50" stroke="#231f20" stroke-width="2.2"/>
<line x1="554.40" y1="687.50" x2="558.90" y2="687.50" stroke="#231f20" stroke-width="2.2"/>
<polygon points="541.15,681.65 552.85,681.65 547.00,693.15" fill="#231f20"/>
<text x="572.80" y="645.80" font-size="15.7" text-anchor="start" fill="#231f20" filter="url(#fs)" textLength="47.30" lengthAdjust="spacingAndGlyphs">30 sec</text>
<text x="572.80" y="669.60" font-size="15.7" text-anchor="start" fill="#231f20" filter="url(#fs)" textLength="47.30" lengthAdjust="spacingAndGlyphs">90 sec</text>
<text x="572.80" y="692.40" font-size="15.7" text-anchor="start" fill="#231f20" filter="url(#fs)" textLength="117.70" lengthAdjust="spacingAndGlyphs">Volume-Equated</text>
</svg>
</body>
</html>
